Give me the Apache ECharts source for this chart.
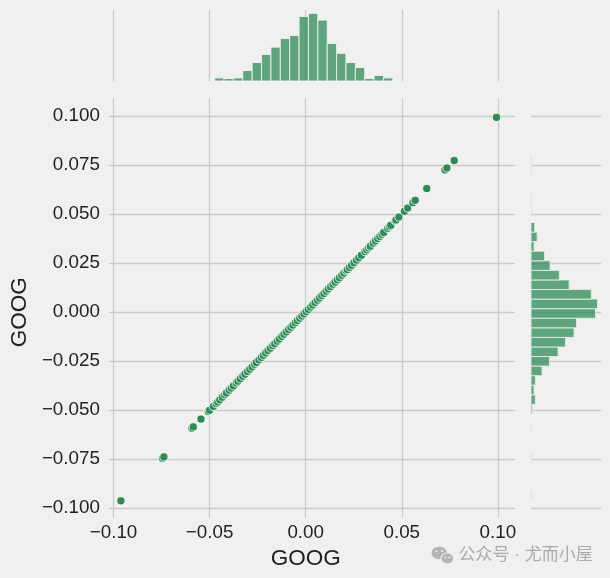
<!DOCTYPE html>
<html><head><meta charset="utf-8">
<script src="https://cdn.jsdelivr.net/npm/echarts@6/dist/echarts.min.js"></script>
<style>html,body{margin:0;padding:0;background:#f0f0f0}#c{width:610px;height:578px}</style>
</head><body><div id="c"></div>
<script>
// ---------------- data ----------------
// daily returns of GOOG, plotted against themselves (x = y)
const googReturns = [
  -0.0962, -0.0745, -0.0738, -0.0592, -0.0585, -0.0545, -0.0507, -0.0500,
  -0.0481, -0.0466, -0.0458, -0.0447, -0.0434, -0.0421, -0.0412, -0.0398,
  -0.0387, -0.0376, -0.0361, -0.0352, -0.0340, -0.0327, -0.0316, -0.0303,
  -0.0291, -0.0279, -0.0266, -0.0257, -0.0243, -0.0231, -0.0220, -0.0208,
  -0.0196, -0.0184, -0.0171, -0.0161, -0.0148, -0.0137, -0.0124, -0.0113,
  -0.0101, -0.0089, -0.0077, -0.0066, -0.0054, -0.0043, -0.0031, -0.0020,
  -0.0009, 0.0003, 0.0014, 0.0026, 0.0037, 0.0049, 0.0061, 0.0072,
  0.0084, 0.0095, 0.0107, 0.0118, 0.0130, 0.0142, 0.0153, 0.0165,
  0.0176, 0.0188, 0.0199, 0.0211, 0.0217, 0.0228, 0.0239, 0.0252,
  0.0265, 0.0277, 0.0290, 0.0309, 0.0318, 0.0328, 0.0336, 0.0352,
  0.0363, 0.0375, 0.0386, 0.0397, 0.0406, 0.0427, 0.0436, 0.0443,
  0.0466, 0.0470, 0.0485, 0.0514, 0.0531, 0.0558, 0.0570, 0.0630,
  0.0725, 0.0735, 0.0773, 0.0993
];
const xTicks = [-0.10, -0.05, 0.00, 0.05, 0.10];
const yTicks = [-0.100, -0.075, -0.050, -0.025, 0.000, 0.025, 0.050, 0.075, 0.100];
// top marginal histogram (x)
const topHistStart = -0.04737;
const topHistBinWidth = 0.00488;
const topHistCounts = [5, 4, 5, 17, 30, 43, 55, 69, 74, 105, 110, 99, 61, 45, 30, 22, 4, 9, 5];
// right marginal histogram (y), bins from bottom to top
const rightHistStart = -0.09582;
const rightHistBinWidth = 0.00488;
const rightHistCounts = [1, 0, 0, 0, 1, 0, 0, 1, 0, 2, 7, 5, 7, 18, 30, 44, 56, 70, 74, 105,
                         108, 98, 62, 46, 31, 22, 5, 10, 6, 0, 1, 1, 0, 0, 1, 1];
const axisTitleX = 'GOOG';
const axisTitleY = 'GOOG';
const watermark = '公众号 · 尤而小屋';

// ---------------- layout / style ----------------
const P = {
  xPx0: 113.55, xPx1: 497.85,   // pixel of first / last x tick
  yPxTop: 116.0, yPxBot: 508.3, // pixel of last / first y tick
  axLeft: 101.7, axRight: 515, axTop: 98.3, axBottom: 517.7,
  topHistTop: 10, topHistBottom: 81,
  rHistLeft: 531, rHistRight: 601
};
const GRID = '#cbcbcb', GRIDW = 1.3;
const TXT = '#222222';
const FONT = '"Liberation Sans", Arial, sans-serif';
const SEA = '#2E8B57';
const HISTFILL = 'rgba(46,139,87,0.75)';
const topCountMax = 115.4, rightCountMax = 113.8;

const xMin = xTicks[0], xMax = xTicks[xTicks.length - 1], xInt = xTicks[1] - xTicks[0];
const yMin = yTicks[0], yMax = yTicks[yTicks.length - 1], yInt = yTicks[1] - yTicks[0];
const fmt = d => v => (v < -1e-9 ? '\u2212' : '') + Math.abs(v).toFixed(d);

const W = P.xPx1 - P.xPx0, H = P.yPxBot - P.yPxTop;
const hidden = { show: false };
const sl = { show: true, lineStyle: { color: GRID, width: GRIDW } };

const chart = echarts.init(document.getElementById('c'), null, { renderer: 'canvas' });
chart.setOption({
  backgroundColor: '#f0f0f0',
  animation: false,
  grid: [
    { left: P.xPx0, width: W, top: P.axTop, height: P.axBottom - P.axTop },
    { left: P.axLeft, width: P.axRight - P.axLeft, top: P.yPxTop, height: H },
    { left: P.xPx0, width: W, top: P.yPxTop, height: H },
    { left: P.xPx0, width: W, top: P.topHistTop, height: P.topHistBottom - P.topHistTop },
    { left: P.rHistLeft, width: P.rHistRight - P.rHistLeft, top: P.yPxTop, height: H }
  ],
  xAxis: [
    { gridIndex: 0, type: 'value', min: xMin, max: xMax, interval: xInt,
      splitLine: sl, axisLine: hidden, axisTick: hidden,
      axisLabel: { margin: 6, fontSize: 18.8, color: TXT, fontFamily: FONT, formatter: fmt(2) },
      name: axisTitleX, nameLocation: 'middle', nameGap: 28,
      nameTextStyle: { fontSize: 22.5, color: TXT, fontFamily: FONT } },
    { gridIndex: 1, type: 'value', min: xMin, max: xMax, show: false },
    { gridIndex: 2, type: 'value', min: xMin, max: xMax, show: false },
    { gridIndex: 3, type: 'value', min: xMin, max: xMax, interval: xInt,
      splitLine: sl, axisLine: hidden, axisTick: hidden, axisLabel: hidden },
    { gridIndex: 4, type: 'value', min: 0, max: rightCountMax, show: false }
  ],
  yAxis: [
    { gridIndex: 0, type: 'value', min: 0, max: 1, show: false },
    { gridIndex: 1, type: 'value', min: yMin, max: yMax, interval: yInt,
      splitLine: sl, axisLine: hidden, axisTick: hidden,
      axisLabel: { margin: 9, fontSize: 18.8, color: TXT, fontFamily: FONT, formatter: fmt(3) },
      name: axisTitleY, nameLocation: 'middle', nameGap: 74, nameRotate: 90,
      nameTextStyle: { fontSize: 22.5, color: TXT, fontFamily: FONT } },
    { gridIndex: 2, type: 'value', min: yMin, max: yMax, show: false },
    { gridIndex: 3, type: 'value', min: 0, max: topCountMax, show: false },
    { gridIndex: 4, type: 'value', min: yMin, max: yMax, interval: yInt,
      splitLine: sl, axisLine: hidden, axisTick: hidden, axisLabel: hidden }
  ],
  series: [
    { type: 'custom', xAxisIndex: 3, yAxisIndex: 3, silent: true,
      data: topHistCounts.map((c, i) => [topHistStart + i * topHistBinWidth, topHistStart + (i + 1) * topHistBinWidth, c]),
      renderItem: (params, api) => {
        if (api.value(2) <= 0) return null;
        const a = api.coord([api.value(0), 0]);
        const b = api.coord([api.value(1), api.value(2)]);
        return { type: 'rect', shape: { x: a[0], y: b[1], width: b[0] - a[0], height: a[1] - b[1] },
                 style: { fill: HISTFILL, stroke: '#f0f0f0', lineWidth: 0.9 } };
      } },
    { type: 'custom', xAxisIndex: 4, yAxisIndex: 4, silent: true,
      data: rightHistCounts.map((c, i) => [rightHistStart + i * rightHistBinWidth, rightHistStart + (i + 1) * rightHistBinWidth, c]),
      renderItem: (params, api) => {
        if (api.value(2) <= 0) return null;
        const a = api.coord([0, api.value(0)]);
        const b = api.coord([api.value(2), api.value(1)]);
        return { type: 'rect', shape: { x: a[0], y: b[1], width: b[0] - a[0], height: a[1] - b[1] },
                 style: { fill: HISTFILL, stroke: '#e4ebe6', lineWidth: 0.9 } };
      } },
    { type: 'scatter', xAxisIndex: 2, yAxisIndex: 2, clip: false, silent: true,
      data: googReturns.map(v => [v, v]),
      symbolSize: 8.2,
      itemStyle: { color: SEA, borderColor: '#ffffff', borderWidth: 0.8, opacity: 1 } }
  ],
  graphic: [
    { type: 'ellipse', shape: { cx: 439.3, cy: 553, rx: 7.7, ry: 6.2 }, style: { fill: '#b4b4b4' }, silent: true },
    { type: 'ellipse', shape: { cx: 447.3, cy: 558.5, rx: 6.4, ry: 5.5 }, style: { fill: '#b4b4b4', stroke: '#f0f0f0', lineWidth: 1.2 }, silent: true },
    { type: 'circle', shape: { cx: 436.5, cy: 551, r: 1.1 }, style: { fill: '#f0f0f0' }, silent: true },
    { type: 'circle', shape: { cx: 442.0, cy: 551, r: 1.1 }, style: { fill: '#f0f0f0' }, silent: true },
    { type: 'circle', shape: { cx: 445.3, cy: 557.5, r: 0.9 }, style: { fill: '#f0f0f0' }, silent: true },
    { type: 'circle', shape: { cx: 449.5, cy: 557.5, r: 0.9 }, style: { fill: '#f0f0f0' }, silent: true },
    { type: 'text', x: 458.6, y: 555.8, silent: true,
      style: { text: watermark, fill: '#ababab', fontSize: 17, fontFamily: '"Liberation Sans", "Noto Sans CJK SC", sans-serif', verticalAlign: 'middle', align: 'left' } }
  ]
});
</script></body></html>
